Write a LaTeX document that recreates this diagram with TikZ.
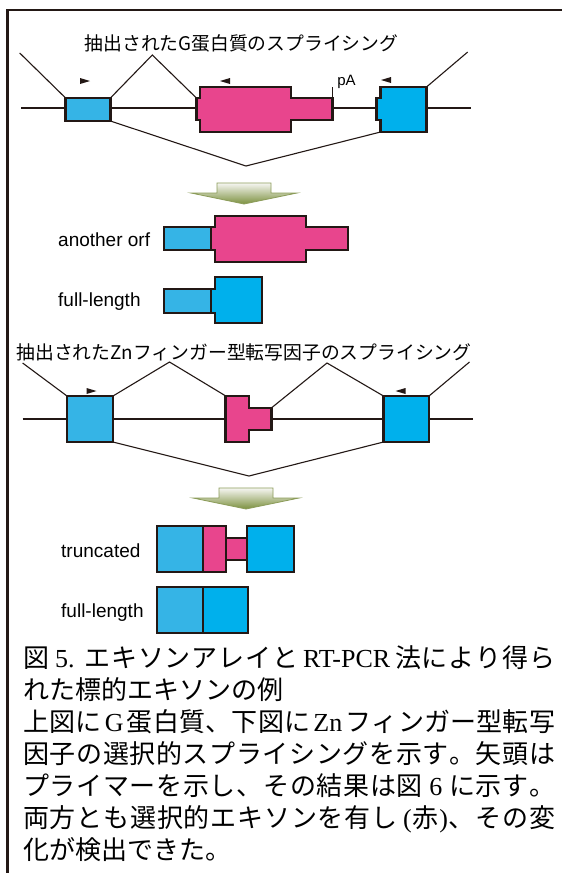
\documentclass[tikz,border=0pt]{standalone}
\usepackage{fontspec}
\newfontfamily\jp{Noto Sans CJK JP}
\newfontfamily\lsans{Liberation Sans}
\newfontfamily\lser{Liberation Serif}
\definecolor{ol}{HTML}{231815}
\definecolor{lblue}{HTML}{35B4E6}
\definecolor{bblue}{HTML}{00B0EC}
\definecolor{exonpink}{HTML}{E8458D}
\definecolor{arrowedge}{HTML}{8C9C5A}
\definecolor{arrowtop}{HTML}{F6F6F2}
\definecolor{arrowmid}{HTML}{CFD5BB}
\definecolor{arrowbot}{HTML}{7C913F}
\makeatletter
\def\spr@stop{\spr@stop}
\def\spr@stopm{\spr@stop}
\def\spr@g{\hskip 0pt plus 1fil minus 1pt\relax}
\newcommand\spreadline[2]{\hbox to #1{\spr@a#2\spr@stop}}
\def\spr@a#1{\def\spr@t{#1}\ifx\spr@t\spr@stopm\else{#1}\expandafter\spr@b\fi}
\def\spr@b#1{\def\spr@t{#1}\ifx\spr@t\spr@stopm\else\spr@g{#1}\expandafter\spr@b\fi}
\makeatother
\tikzset{
  bbline/.style={draw=ol, line width=2.6pt},
  splline/.style={draw=ol, line width=1.1pt},
  exonbox/.style={draw=ol, line width=2.8pt, rectangle, inner sep=0pt, outer sep=0pt},
  exonpath/.style={draw=ol, line width=2.8pt, line join=miter},
  primer/.style={fill=ol},
  labtxt/.style={font=\lsans\fontsize{19}{22}\selectfont, anchor=west, inner sep=0pt, text height=13.7pt, text depth=0pt},
  patxt/.style={font=\lsans\fontsize{15}{18}\selectfont, inner sep=0pt, text height=10.7pt, text depth=0pt},
  ttltxt/.style={font=\jp\fontsize{18.8}{22}\selectfont, inner sep=0pt, text height=16.5pt, text depth=2.2pt},
  captxt/.style={font=\jp\fontsize{26}{32}\selectfont, anchor=west, inner sep=0pt, text height=22.9pt, text depth=3.1pt},
  bigarrow/.style={top color=arrowtop, middle color=arrowmid, bottom color=arrowbot, draw=arrowedge, line width=0.8pt, line join=miter}
}
\begin{document}
\begin{tikzpicture}[x=1pt,y=-1pt]
\useasboundingbox (0,0) rectangle (562,873);
\fill[white] (0,0) rectangle (562,873);
% frame
\coordinate (frA) at (7.5,873);
\coordinate (frB) at (7.5,10);
\coordinate (frC) at (562,10);
\draw[draw=ol, line width=2.2pt] (frA) -- (frB) -- (frC);

% ===== G protein =====
\node[ttltxt] (gt) at (241.5,43) {抽出されたG蛋白質のスプライシング};
\coordinate (gbA) at (21,108);
\coordinate (gbB) at (471,108);
\draw[bbline] (gbA) -- (gbB);
\node[exonbox, fill=lblue, minimum width=44.8pt, minimum height=23pt] (g1) at (88,109.5) {};
\draw[exonpath, fill=exonpink] (196.4,98) coordinate (g2tl) -- (200,98) -- (200,87) -- (291,87) -- (291,98) -- (332.6,98) coordinate (g2tr) -- (332.6,120) -- (291,120) -- (291,132) -- (200,132) -- (200,120) -- (196.4,120) -- cycle;
\draw[exonpath, fill=bblue] (380.6,87) -- (426.5,87) coordinate (g3tr) -- (426.5,132) -- (380.6,132) coordinate (g3bl) -- (380.6,120) -- (376.3,120) -- (376.3,98) -- (380.6,98) -- cycle;
\coordinate (gs1) at (19.7,53);
\coordinate (gp1) at (152.3,55);
\coordinate (gs2) at (467.7,52);
\coordinate (gv) at (246,166);
\draw[splline] (gs1) -- (g1.north west);
\draw[splline] (g1.north east) -- (gp1) -- (g2tl);
\draw[splline] (g3tr) -- (gs2);
\draw[splline] (g1.south east) -- (gv) -- (g3bl);
\coordinate (pAtop) at (332.6,87);
\draw[splline] (g2tr) -- (pAtop);
\node[patxt] (pA) at (346.5,80) {pA};
\fill[primer] (80,78) -- (90,81) -- (80,84) -- cycle;
\fill[primer] (230,78) -- (220,81) -- (230,84) -- cycle;
\fill[primer] (391,77) -- (381,80) -- (391,83) -- cycle;

\draw[bigarrow] (217,183) -- (271,183) -- (271,193) -- (297,193) -- (244,204) -- (191,193) -- (217,193) -- cycle;

\node[labtxt] (t1) at (58,240) {another orf};
\draw[exonpath, fill=exonpink] (211,227) -- (215,227) -- (215,216) -- (306,216) -- (306,227) -- (348,227) -- (348,250) -- (306,250) -- (306,262) -- (215,262) -- (215,250) -- (211,250) -- cycle;
\node[exonbox, fill=lblue, minimum width=47pt, minimum height=23pt] (ao1) at (187.5,238.5) {};

\node[labtxt] (t2) at (58,300) {full-length};
\draw[exonpath, fill=bblue] (211,289) -- (215,289) -- (215,277) -- (262,277) -- (262,323) -- (215,323) -- (215,313) -- (211,313) -- cycle;
\node[exonbox, fill=lblue, minimum width=47pt, minimum height=24pt] (fl1) at (187.5,301) {};

% ===== Zn finger =====
\node[ttltxt] (zt) at (244,352) {抽出されたZnフィンガー型転写因子のスプライシング};
\coordinate (zbA) at (22.6,419);
\coordinate (zbB) at (473,419);
\draw[bbline] (zbA) -- (zbB);
\node[exonbox, fill=lblue, minimum width=46pt, minimum height=46pt] (z1) at (90,419) {};
\draw[exonpath, fill=exonpink] (225.8,396) coordinate (z2tl) -- (249,396) -- (249,408) -- (271.3,408) coordinate (z2tr) -- (271.3,430) -- (249,430) -- (249,442) -- (225.8,442) -- cycle;
\node[exonbox, fill=bblue, minimum width=45.5pt, minimum height=46pt] (z3) at (406.25,419) {};
\coordinate (zs1) at (22.6,363);
\coordinate (zp1) at (169.5,362);
\coordinate (zp2) at (327,363);
\coordinate (zs2) at (469.5,362);
\coordinate (zv) at (249,476);
\draw[splline] (zs1) -- (z1.north west);
\draw[splline] (z1.north east) -- (zp1) -- (z2tl);
\draw[splline] (z2tr) -- (zp2) -- (z3.north west);
\draw[splline] (z3.north east) -- (zs2);
\draw[splline] (z1.south east) -- (zv) -- (z3.south west);
\fill[primer] (86.5,388) -- (96.5,391) -- (86.5,394) -- cycle;
\fill[primer] (405.5,388) -- (395.5,391) -- (405.5,394) -- cycle;

\draw[bigarrow] (219,488) -- (273,488) -- (273,498) -- (299,498) -- (246,509) -- (193,498) -- (219,498) -- cycle;

\node[labtxt] (t3) at (61,551) {truncated};
\node[exonbox, fill=exonpink, minimum width=21pt, minimum height=22pt] (tr3) at (236.5,549) {};
\node[exonbox, fill=lblue, minimum width=46pt, minimum height=46pt] (tr1) at (180,549) {};
\node[exonbox, fill=exonpink, minimum width=23pt, minimum height=46pt] (tr2) at (214.5,549) {};
\node[exonbox, fill=bblue, minimum width=47pt, minimum height=46pt] (tr4) at (270.5,549) {};

\node[labtxt] (t4) at (61,611) {full-length};
\node[exonbox, fill=lblue, minimum width=46pt, minimum height=46pt] (fl2a) at (180,610) {};
\node[exonbox, fill=bblue, minimum width=45pt, minimum height=46pt] (fl2b) at (225.5,610) {};

% ===== caption =====
\node[captxt] (c1) at (23,658) {\spreadline{532pt}{図{\lser\hspace{5pt}5.\hspace{9pt}}エキソンアレイと{\lser\hspace{4pt}RT-PCR\hspace{4pt}}法により得ら}};
\node[captxt] (c2) at (23,690) {れた標的エキソンの例};
\node[captxt] (c3) at (23,722) {\spreadline{532pt}{上図に{\lser\hspace{3pt}G\hspace{3pt}}蛋白質、下図に{\lser\hspace{3pt}Zn\hspace{3pt}}フィンガー型転写}};
\node[captxt] (c4) at (23,754) {\spreadline{532pt}{因子の選択的スプライシングを示す。矢頭は}};
\node[captxt] (c5) at (23,786) {\spreadline{532pt}{プライマーを示し、その結果は図{\lser\hspace{6pt}6\hspace{6pt}}に示す。}};
\node[captxt] (c6) at (23,818) {\spreadline{532pt}{両方とも選択的エキソンを有し{\lser\hspace{5pt}(}赤{\lser)}、その変}};
\node[captxt] (c7) at (23,850) {化が検出できた。};
\end{tikzpicture}
\end{document}
